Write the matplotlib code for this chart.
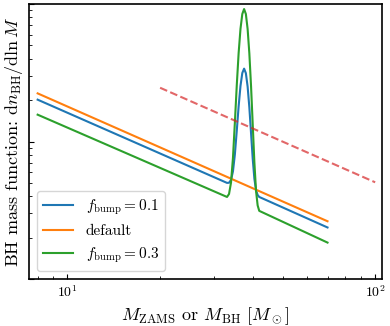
import numpy as np
import matplotlib
matplotlib.use('Agg')
import matplotlib.pyplot as plt
from matplotlib.ticker import NullFormatter

plt.rcParams['font.family'] = 'serif'
plt.rcParams['font.serif'] = ['cmr10', 'DejaVu Serif']
plt.rcParams['mathtext.fontset'] = 'cm'
plt.rcParams['axes.formatter.use_mathtext'] = True
plt.rcParams['axes.unicode_minus'] = False

# default power law (straight in log-log)
m_default = [8, 70]
y_default = [2.239, 0.263]

m_bump = [8, 33, 33.5, 34, 34.5, 35, 35.5, 36, 36.5, 37, 37.5, 38, 38.5, 39,
          39.5, 40, 40.5, 41, 41.5, 42, 70]
y_bump01 = [2.015, 0.500, 0.501, 0.525, 0.606, 0.806, 1.199, 1.807, 2.534, 3.149,
            3.388, 3.138, 2.511, 1.773, 1.153, 0.748, 0.536, 0.443, 0.408, 0.395, 0.237]
y_bump03 = [1.567, 0.395, 0.415, 0.502, 0.759, 1.376, 2.567, 4.407, 6.602, 8.460,
            9.191, 8.452, 6.584, 4.380, 2.531, 1.331, 0.705, 0.438, 0.343, 0.313, 0.184]

# reference line
m_ref = [20, 100]
y_ref = [2.46, 0.505]

fig = plt.figure(figsize=(3.9, 3.26), dpi=100)
ax = fig.add_axes([0.0744, 0.1442, 0.9043, 0.8435])

ax.plot(m_bump, y_bump01, color='C0', lw=1.5, label=r'$f_{\rm bump} = 0.1$')
ax.plot(m_default, y_default, color='C1', lw=1.5, label='default')
ax.plot(m_bump, y_bump03, color='C2', lw=1.5, label=r'$f_{\rm bump} = 0.3$')
ax.plot(m_ref, y_ref, color='C3', ls='--', lw=1.5, alpha=0.7)

ax.set_xscale('log')
ax.set_yscale('log')
ax.set_xlim(7.5, 105)
ax.set_ylim(0.1, 10)

ax.yaxis.set_major_formatter(NullFormatter())
ax.yaxis.set_minor_formatter(NullFormatter())
ax.tick_params(which='both', direction='in', labelsize=10)
for s in ax.spines.values():
    s.set_linewidth(1.2)

ax.set_xlabel(r'$M_{\rm ZAMS}$ or $M_{\rm BH}$ $[M_\odot]$', fontsize=13)
ax.set_ylabel(r'BH mass function: $\mathrm{d}n_{\rm BH}/\mathrm{d}\ln M$', fontsize=13)
ax.yaxis.set_label_coords(-0.012, 0.5)
ax.legend(loc='lower left', fontsize=11)

fig.savefig('out.png', dpi=100)
